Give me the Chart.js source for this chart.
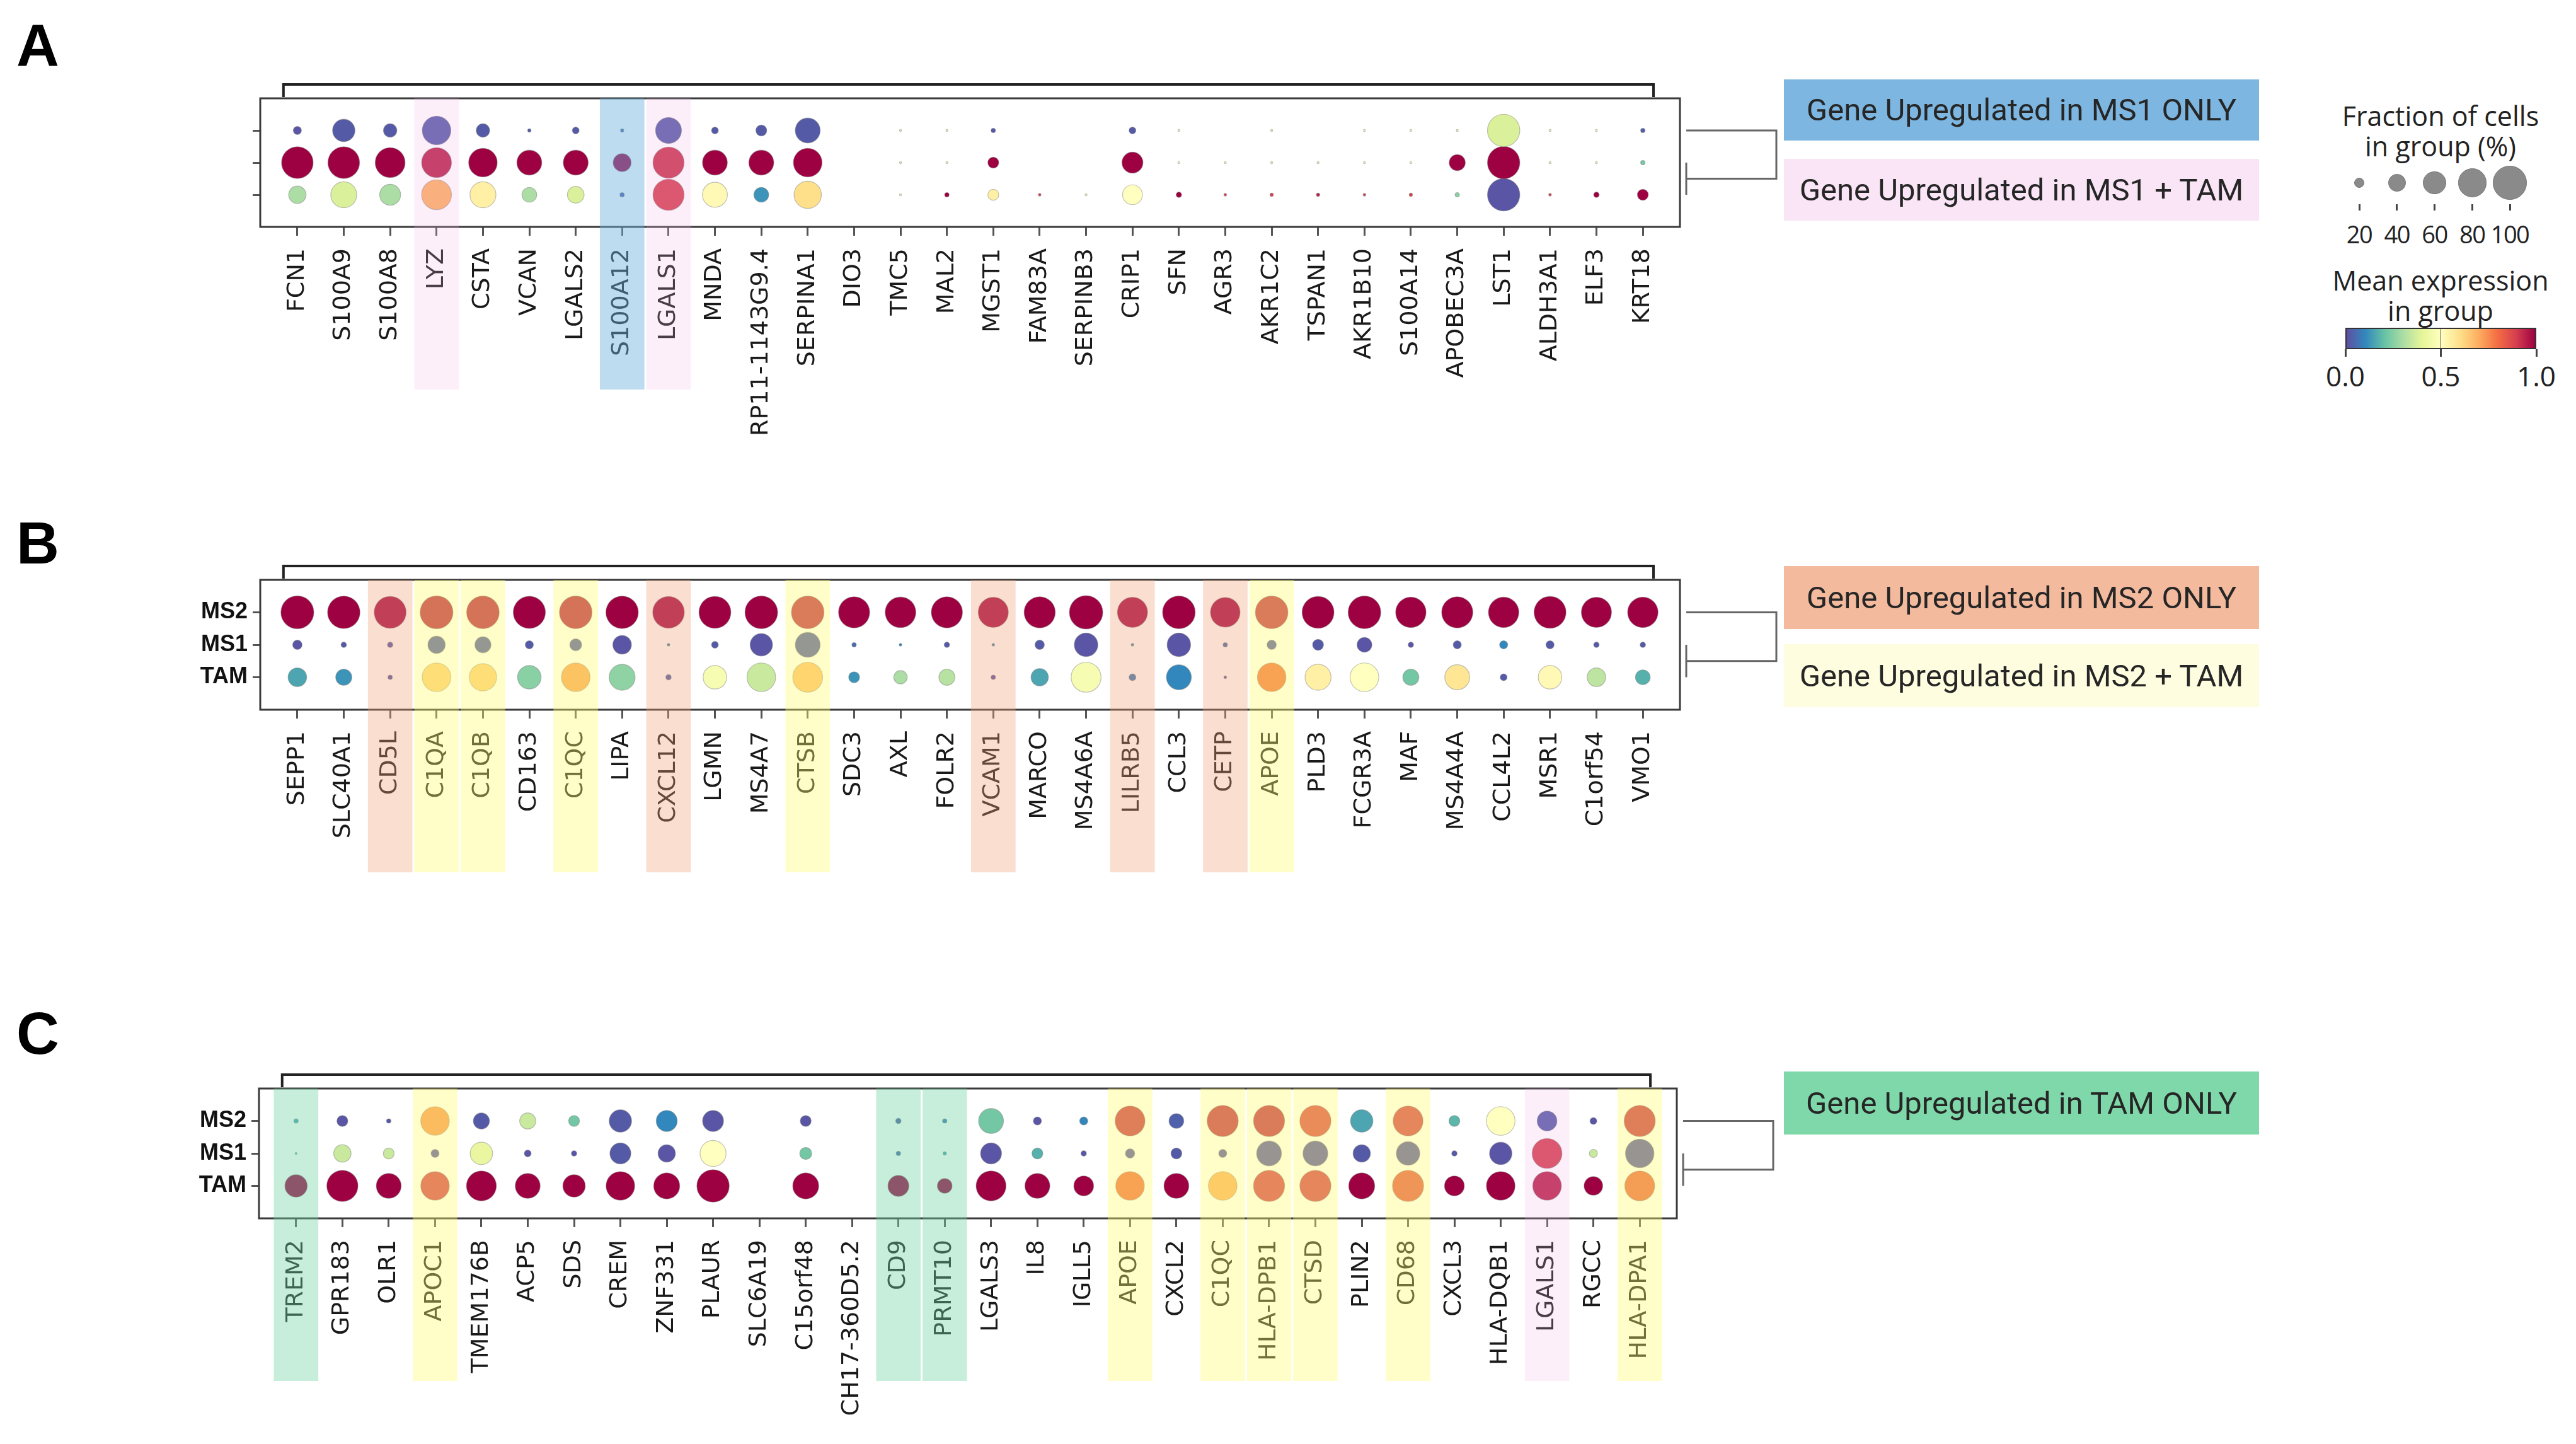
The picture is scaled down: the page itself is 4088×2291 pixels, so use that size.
<!DOCTYPE html>
<html>
<head>
<meta charset="utf-8">
<title>Dot plots A-C</title>
<script src="https://cdn.jsdelivr.net/npm/chart.js@4.4.1/dist/chart.umd.min.js"></script>
<style>
html, body { margin: 0; padding: 0; background: #fff; }
body { position: relative; width: 4088px; height: 2291px; overflow: hidden; font-family: Roboto, 'Liberation Sans', sans-serif; color: #222; }
.panel { position: absolute; left: 0; width: 2830px; }
.letter { position: absolute; left: 26px; font: bold 94px 'Liberation Sans', Arial, sans-serif; line-height: 1; color: #000; }
.tag { position: absolute; left: 2831px; width: 754px; display: flex; align-items: center; justify-content: center; font-size: 49px; font-weight: 400; color: #262626; }
.ltxt { position: absolute; left: 3623px; width: 500px; text-align: center; font-family: 'Open Sans', sans-serif; font-size: 43px; line-height: 48px; color: #222; }
.lnum { position: absolute; width: 100px; margin-left: -50px; text-align: center; font-family: 'Open Sans', sans-serif; font-size: 38px; line-height: 44px; letter-spacing: -1.5px; color: #222; }
.ldot { position: absolute; border-radius: 50%; background: #8a8a8a; border: 1px solid #777; box-sizing: border-box; }
.ltick { position: absolute; width: 3px; margin-left: -1.5px; background: #444; }
#cbar { position: absolute; left: 3722px; top: 520px; width: 303px; height: 34px; border: 2px solid #333; box-sizing: border-box; }
</style>
</head>
<body>

<div class="panel" style="top:0px;height:720px"><canvas id="panelA"></canvas></div>
<div class="panel" style="top:760px;height:660px"><canvas id="panelB"></canvas></div>
<div class="panel" style="top:1560px;height:731px"><canvas id="panelC"></canvas></div>

<div class="letter" style="top:26px">A</div>
<div class="letter" style="top:815px">B</div>
<div class="letter" style="top:1593px">C</div>

<div class="tag" style="top:126px;height:97px;background:#7db6e0">Gene Upregulated in MS1 ONLY</div>
<div class="tag" style="top:252px;height:98px;background:#f9e5f6">Gene Upregulated in MS1 + TAM</div>
<div class="tag" style="top:898px;height:100px;background:#f4ba9e">Gene Upregulated in MS2 ONLY</div>
<div class="tag" style="top:1022px;height:100px;background:#fefddf">Gene Upregulated in MS2 + TAM</div>
<div class="tag" style="top:1700px;height:100px;background:#7fd8a9">Gene Upregulated in TAM ONLY</div>

<div class="ltxt" style="top:160px">Fraction of cells<br>in group (%)</div>
<div id="sizeLegend"></div>
<div class="ltxt" style="top:421px">Mean expression<br>in group</div>
<div id="cbar"></div>
<div id="cbarTicks"></div>

<script>
// ---- data ----
const rows = ['MS2', 'MS1', 'TAM'];

const genesA = ['FCN1', 'S100A9', 'S100A8', 'LYZ', 'CSTA', 'VCAN', 'LGALS2', 'S100A12', 'LGALS1', 'MNDA',
  'RP11-1143G9.4', 'SERPINA1', 'DIO3', 'TMC5', 'MAL2', 'MGST1', 'FAM83A', 'SERPINB3', 'CRIP1', 'SFN',
  'AGR3', 'AKR1C2', 'TSPAN1', 'AKR1B10', 'S100A14', 'APOBEC3A', 'LST1', 'ALDH3A1', 'ELF3', 'KRT18'];
// fraction of cells in group (%)
const fracA_MS2 = [14, 57, 28, 80, 28, 4, 11, 4, 70, 11, 21, 66, 0, 2, 2, 6, 0, 0, 11, 2, 0, 2, 0, 2, 2, 2, 95, 2, 2, 6];
const fracA_MS1 = [92, 92, 85, 85, 80, 66, 66, 42, 90, 66, 66, 80, 0, 2, 2, 21, 0, 0, 52, 2, 2, 2, 2, 2, 2, 36, 95, 2, 2, 6];
const fracA_TAM = [40, 70, 52, 85, 70, 32, 38, 6, 90, 66, 32, 75, 0, 2, 6, 21, 3, 2, 48, 8, 3, 4, 4, 3, 4, 6, 95, 3, 8, 21];
// mean expression in group (0-1)
const expA_MS2 = [0.01, 0.02, 0.02, 0.02, 0.02, 0.02, 0.02, 0.05, 0.02, 0.02, 0.02, 0.02, 0, 0.45, 0.45, 0.02, 0, 0, 0.02, 0.45, 0, 0.45, 0, 0.45, 0.45, 0.45, 0.38, 0.45, 0.45, 0.03];
const expA_MS1 = [1, 1, 1, 0.95, 1, 1, 1, 1, 0.92, 1, 1, 1, 0, 0.45, 0.45, 1, 0, 0, 1, 0.45, 0.45, 0.45, 0.45, 0.45, 0.45, 1, 1, 0.45, 0.45, 0.22];
const expA_TAM = [0.3, 0.38, 0.3, 0.7, 0.55, 0.3, 0.38, 0.03, 0.9, 0.52, 0.12, 0.6, 0, 0.45, 1, 0.55, 0.9, 0.45, 0.5, 1, 0.9, 0.9, 0.95, 0.9, 0.9, 0.25, 0.01, 0.9, 1, 1];

const genesB = ['SEPP1', 'SLC40A1', 'CD5L', 'C1QA', 'C1QB', 'CD163', 'C1QC', 'LIPA', 'CXCL12', 'LGMN',
  'MS4A7', 'CTSB', 'SDC3', 'AXL', 'FOLR2', 'VCAM1', 'MARCO', 'MS4A6A', 'LILRB5', 'CCL3',
  'CETP', 'APOE', 'PLD3', 'FCGR3A', 'MAF', 'MS4A4A', 'CCL4L2', 'MSR1', 'C1orf54', 'VMO1'];
const fracB_MS2 = [97, 95, 93, 97, 96, 94, 96, 95, 92, 93, 96, 96, 90, 88, 90, 86, 90, 99, 86, 96, 84, 96, 93, 96, 87, 90, 87, 93, 86, 87];
const fracB_MS1 = [17, 8, 8, 40, 36, 14, 24, 44, 3, 11, 57, 66, 6, 3, 8, 3, 17, 61, 3, 61, 6, 17, 21, 32, 8, 14, 14, 14, 8, 8];
const fracB_TAM = [44, 36, 6, 80, 75, 61, 80, 70, 8, 61, 80, 85, 21, 28, 36, 6, 40, 85, 11, 66, 3, 80, 70, 80, 36, 66, 11, 61, 44, 32];
const expB_MS2 = [1, 1, 0.98, 0.95, 0.95, 1, 0.95, 1, 0.98, 1, 1, 0.93, 1, 1, 1, 0.98, 1, 1, 0.98, 1, 0.98, 0.93, 1, 1, 1, 1, 1, 1, 1, 1];
const expB_MS1 = [0.01, 0.02, 0.02, 0.02, 0.02, 0.02, 0.02, 0.01, 0.1, 0.02, 0.01, 0.02, 0.05, 0.1, 0.02, 0.1, 0.02, 0.01, 0.1, 0.01, 0.05, 0.02, 0.02, 0.01, 0.01, 0.02, 0.1, 0.02, 0.02, 0.02];
const expB_TAM = [0.15, 0.12, 0.02, 0.64, 0.64, 0.25, 0.72, 0.26, 0.04, 0.47, 0.35, 0.67, 0.12, 0.3, 0.32, 0.01, 0.15, 0.47, 0.08, 0.1, 0.01, 0.8, 0.55, 0.5, 0.22, 0.58, 0.02, 0.52, 0.33, 0.17];

const genesC = ['TREM2', 'GPR183', 'OLR1', 'APOC1', 'TMEM176B', 'ACP5', 'SDS', 'CREM', 'ZNF331', 'PLAUR',
  'SLC6A19', 'C15orf48', 'CH17-360D5.2', 'CD9', 'PRMT10', 'LGALS3', 'IL8', 'IGLL5', 'APOE', 'CXCL2',
  'C1QC', 'HLA-DPB1', 'CTSD', 'PLIN2', 'CD68', 'CXCL3', 'HLA-DQB1', 'LGALS1', 'RGCC', 'HLA-DPA1'];
const fracC_MS2 = [6, 21, 6, 80, 36, 36, 21, 57, 52, 52, 0, 21, 0, 8, 6, 66, 14, 14, 85, 32, 90, 90, 90, 57, 85, 21, 80, 48, 11, 90];
const fracC_MS1 = [2, 40, 21, 14, 57, 11, 8, 52, 40, 70, 0, 24, 0, 6, 4, 52, 21, 8, 17, 21, 14, 66, 66, 40, 61, 8, 57, 85, 14, 80];
const fracC_TAM = [57, 90, 66, 80, 85, 66, 57, 80, 70, 95, 0, 70, 0, 52, 32, 85, 66, 48, 80, 66, 80, 90, 90, 70, 90, 48, 80, 80, 44, 85];
const expC_MS2 = [0.15, 0.01, 0.02, 0.74, 0.02, 0.35, 0.22, 0.02, 0.1, 0.01, 0, 0.01, 0, 0.03, 0.08, 0.22, 0.01, 0.1, 0.92, 0.03, 0.93, 0.93, 0.88, 0.15, 0.9, 0.18, 0.5, 0.02, 0.01, 0.92];
const expC_MS1 = [0.2, 0.35, 0.35, 0.01, 0.42, 0.01, 0.01, 0.02, 0.01, 0.5, 0, 0.22, 0, 0.05, 0.15, 0.01, 0.17, 0.01, 0.01, 0.02, 0.01, 0.01, 0.01, 0.02, 0.01, 0.02, 0.01, 0.9, 0.35, 0.01];
const expC_TAM = [1, 1, 1, 0.9, 1, 1, 1, 1, 1, 1, 0, 1, 0, 1, 1, 1, 1, 1, 0.8, 1, 0.7, 0.9, 0.9, 1, 0.85, 1, 1, 0.95, 1, 0.82];

// highlighted genes
const ms1OnlyA = ['S100A12'];
const ms1TamA = ['LYZ', 'LGALS1'];
const ms2OnlyB = ['CD5L', 'CXCL12', 'VCAM1', 'LILRB5', 'CETP'];
const ms2TamB = ['C1QA', 'C1QB', 'C1QC', 'CTSB', 'APOE'];
const tamOnlyC = ['TREM2', 'CD9', 'PRMT10'];
const ms2TamC = ['APOC1', 'APOE', 'C1QC', 'HLA-DPB1', 'CTSD', 'CD68', 'HLA-DPA1'];
const ms1TamC = ['LGALS1'];

const legendFracs = [20, 40, 60, 80, 100];
const colorTicks = [0, 0.5, 1];

// ---- helpers ----
const spectralR = ['#5e4fa2', '#3288bd', '#66c2a5', '#abdda4', '#e6f598', '#ffffbf',
  '#fee08b', '#fdae61', '#f46d43', '#d53e4f', '#9e0142'];
const hex = h => [1, 3, 5].map(k => parseInt(h.substr(k, 2), 16));
function expColor(v) {
  v = Math.max(0, Math.min(1, v));
  const p = v * 10, i = Math.min(9, Math.floor(p)), t = p - i;
  const a = hex(spectralR[i]), b = hex(spectralR[i + 1]);
  const c = a.map((q, k) => Math.round(q + (b[k] - q) * t));
  return `rgb(${c[0]},${c[1]},${c[2]})`;
}
const dotRadius = f => f > 0 ? 26.7 * Math.pow(f / 100, 0.72) : 0;

const bandColor = {
  blue: 'rgba(111,177,222,0.45)',
  pink: 'rgba(240,180,230,0.22)',
  salmon: 'rgba(241,161,121,0.35)',
  yellow: 'rgba(255,252,112,0.38)',
  green: 'rgba(115,213,165,0.40)'
};

const decor = {
  id: 'decor',
  afterDraw(chart, args, opts) {
    const { ctx, chartArea: a, scales: { x, y } } = chart;
    ctx.save();
    // frame
    ctx.strokeStyle = '#3a3a3a';
    ctx.lineWidth = 3;
    ctx.strokeRect(a.left, a.top, a.right - a.left, a.bottom - a.top);
    // bracket over genes
    const x1 = x.getPixelForValue(-0.3), x2 = x.getPixelForValue(opts.n - 0.77), dy = a.top - 22;
    ctx.lineWidth = 4;
    ctx.strokeStyle = '#222';
    ctx.beginPath();
    ctx.moveTo(x1, a.top - 2); ctx.lineTo(x1, dy); ctx.lineTo(x2, dy); ctx.lineTo(x2, a.top - 2);
    ctx.stroke();
    // group dendrogram
    const xa = a.right + 10, xb = a.right + 153;
    const y0 = y.getPixelForValue(0), y1 = y.getPixelForValue(1), y2 = y.getPixelForValue(2), ym = (y1 + y2) / 2;
    ctx.lineWidth = 3;
    ctx.strokeStyle = '#666';
    ctx.beginPath();
    ctx.moveTo(xa, y0); ctx.lineTo(xb, y0); ctx.lineTo(xb, ym); ctx.lineTo(xa, ym);
    ctx.moveTo(xa, y1); ctx.lineTo(xa, y2);
    ctx.stroke();
    // highlight bands over columns
    opts.bands.forEach(([list, col]) => {
      list.forEach(g => {
        const i = opts.genes.indexOf(g);
        const l = x.getPixelForValue(i - 0.48), r = x.getPixelForValue(i + 0.48);
        ctx.fillStyle = bandColor[col];
        ctx.fillRect(l, a.top, r - l, a.bottom - a.top + opts.depth);
      });
    });
    ctx.restore();
  }
};

function makePanel(id, genes, frac, exp, showRows, box, height, bands) {
  const datasets = rows.map((name, r) => ({
    label: name,
    data: genes.map((g, i) => ({ x: i, y: r, f: frac[r][i], e: exp[r][i] })),
    backgroundColor: c => expColor(c.raw.e),
    radius: c => dotRadius(c.raw.f),
    borderColor: 'rgba(120,120,120,0.45)',
    borderWidth: c => c.raw.f > 0 ? 1.2 : 0
  }));
  return new Chart(document.getElementById(id), {
    type: 'bubble',
    data: { datasets },
    plugins: [decor],
    options: {
      responsive: true,
      maintainAspectRatio: false,
      animation: false,
      events: [],
      layout: { padding: { left: 0, top: box.top, right: 2830 - box.right, bottom: 0 } },
      scales: {
        x: {
          type: 'linear', min: -0.8, max: genes.length - 0.2,
          afterBuildTicks: s => { s.ticks = genes.map((g, i) => ({ value: i })); },
          afterFit: s => { s.height = height - box.bottom; },
          ticks: {
            autoSkip: false, minRotation: 90, maxRotation: 90, padding: 20,
            callback: v => genes[v],
            color: '#1a1a1a', font: { family: 'DejaVu Sans', size: 38 }
          },
          grid: { drawOnChartArea: false, tickLength: 14, tickWidth: 3, tickColor: '#555' },
          border: { display: false }
        },
        y: {
          type: 'linear', min: -1, max: 3, reverse: true,
          afterBuildTicks: s => { s.ticks = rows.map((r, i) => ({ value: i })); },
          afterFit: s => { s.width = box.left; },
          ticks: {
            padding: 8,
            callback: v => showRows ? rows[v] : '',
            color: '#111', font: { family: "'Liberation Sans', Arial, sans-serif", size: 36, weight: 'bold' }
          },
          grid: { drawOnChartArea: false, tickLength: 12, tickWidth: 3, tickColor: '#555' },
          border: { display: false }
        }
      },
      plugins: {
        legend: { display: false },
        tooltip: { enabled: false },
        decor: { genes, n: genes.length, bands, depth: 258 }
      }
    }
  });
}

makePanel('panelA', genesA, [fracA_MS2, fracA_MS1, fracA_TAM], [expA_MS2, expA_MS1, expA_TAM], false,
  { left: 413, top: 156, right: 2666, bottom: 360 }, 720,
  [[ms1TamA, 'pink'], [ms1OnlyA, 'blue']]);
makePanel('panelB', genesB, [fracB_MS2, fracB_MS1, fracB_TAM], [expB_MS2, expB_MS1, expB_TAM], true,
  { left: 413, top: 160, right: 2666, bottom: 366 }, 660,
  [[ms2OnlyB, 'salmon'], [ms2TamB, 'yellow']]);
makePanel('panelC', genesC, [fracC_MS2, fracC_MS1, fracC_TAM], [expC_MS2, expC_MS1, expC_TAM], true,
  { left: 411, top: 167, right: 2661, bottom: 373 }, 731,
  [[tamOnlyC, 'green'], [ms2TamC, 'yellow'], [ms1TamC, 'pink']]);

// ---- size legend ----
const sl = document.getElementById('sizeLegend');
legendFracs.forEach((f, i) => {
  const cx = 3744 + i * 59.75, r = dotRadius(f);
  sl.insertAdjacentHTML('beforeend',
    `<div class="ldot" style="left:${cx - r}px;top:${290 - r}px;width:${2 * r}px;height:${2 * r}px"></div>` +
    `<div class="ltick" style="left:${cx}px;top:324px;height:10px"></div>` +
    `<div class="lnum" style="left:${cx}px;top:349px">${f}</div>`);
});

// ---- colorbar ----
document.getElementById('cbar').style.background =
  'linear-gradient(to right,' + spectralR.map((c, i) => `${c} ${i * 10}%`).join(',') + ')';
const ct = document.getElementById('cbarTicks');
colorTicks.forEach(v => {
  const cx = 3722 + v * 303;
  ct.insertAdjacentHTML('beforeend',
    `<div class="ltick" style="left:${cx}px;top:554px;height:12px"></div>` +
    `<div class="lnum" style="left:${cx}px;top:572px;font-size:44px;line-height:48px;letter-spacing:0">${v.toFixed(1)}</div>`);
});
ct.insertAdjacentHTML('beforeend', `<div class="ltick" style="left:${3722 + 151.5}px;top:522px;height:30px;width:2px;background:rgba(120,120,120,0.6)"></div>`);
</script>
</body>
</html>
